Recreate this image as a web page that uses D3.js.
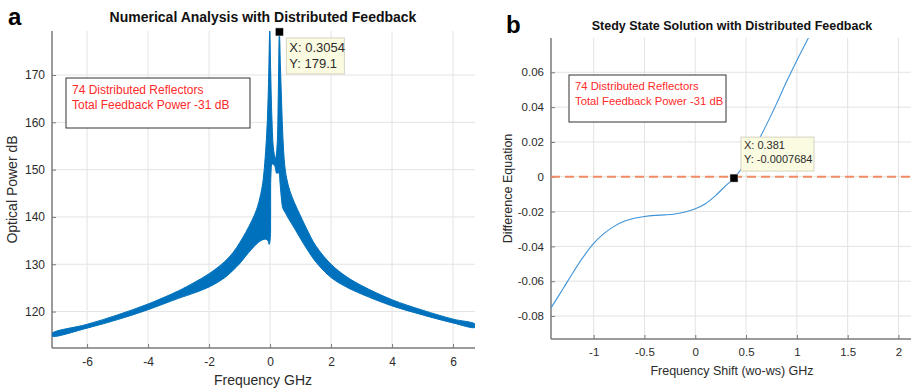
<!DOCTYPE html>
<html>
<head>
<meta charset="utf-8">
<script src="https://cdn.jsdelivr.net/npm/d3@7"></script>
<style>
  body { margin: 0; background: #fff; }
  svg { font-family: "Liberation Sans", Arial, Helvetica, sans-serif; }
</style>
</head>
<body>
<svg id="chart" width="911" height="388"></svg>
<script>
// panel a: optical power spectrum, drawn as the envelope of the dense oscillation
const upperA = [
  [-7.15, 115.4], [-6, 117.3], [-5, 119.3], [-4, 121.6], [-3, 124.4], [-2.5, 126.1], [-2, 128.0],
  [-1.5, 130.5], [-1.2, 132.6], [-1, 134.5], [-0.8, 136.7], [-0.6, 139.2], [-0.44, 141.6],
  [-0.3, 145.0], [-0.22, 148.2], [-0.11, 157.6], [-0.05, 168.2], [-0.01, 179.4], [0.02, 171],
  [0.06, 161], [0.12, 154], [0.18, 152.4], [0.23, 155], [0.27, 166], [0.3054, 179.1],
  [0.34, 172], [0.38, 164], [0.42, 157], [0.48, 151], [0.55, 148], [0.65, 145.5], [0.8, 143.0],
  [1.0, 140.2], [1.2, 137.5], [1.5, 133.9], [2, 130.0], [2.5, 127.4], [3, 125.5], [4, 122.5],
  [5, 120.3], [6, 118.4], [6.72, 117.35]
];
const lowerA = [
  [6.72, 116.65], [6, 117.6], [5, 119.3], [4, 121.2], [3, 123.7], [2.5, 125.2], [2, 127.2],
  [1.5, 130.5], [1.2, 133.3], [1.0, 135.4], [0.8, 137.6], [0.6, 139.7], [0.5, 140.9],
  [0.42, 141.8], [0.37, 144], [0.33, 147], [0.28, 149.4], [0.22, 149.2], [0.15, 150.8],
  [0.07, 151.2], [0.03, 149], [0.018, 140], [0.008, 135.6], [-0.03, 134.2], [-0.07, 135],
  [-0.15, 135.3], [-0.3, 135], [-0.44, 134.3], [-0.6, 133.2], [-0.8, 131.7], [-1, 130.1],
  [-1.2, 128.8], [-1.5, 127.1], [-2, 125.2], [-2.5, 123.9], [-3, 122.8], [-4, 120.4],
  [-5, 118.3], [-6, 116.5], [-7.15, 114.8]
];
const xTicksA = [-6, -4, -2, 0, 2, 4, 6];
const yTicksA = [120, 130, 140, 150, 160, 170];
const tipA = { x: 0.3054, y: 179.1 };

// panel b: steady state difference equation
const shiftB = [-1.42, -1.3, -1.2, -1.1, -1.0, -0.9, -0.8, -0.7, -0.6, -0.5, -0.4, -0.3, -0.2, -0.1,
  0, 0.1, 0.2, 0.3, 0.381, 0.5, 0.6, 0.7, 0.8, 0.9, 1.0, 1.12];
const diffB = [-0.0753, -0.0642, -0.0547, -0.0459, -0.0383, -0.0327, -0.0285, -0.0256, -0.0238,
  -0.0228, -0.0222, -0.0219, -0.0214, -0.0203, -0.0184, -0.0155, -0.0108, -0.0051, -0.0008,
  0.0085, 0.0185, 0.0298, 0.0420, 0.0548, 0.0668, 0.0805];
const xTicksB = [-1, -0.5, 0, 0.5, 1, 1.5, 2];
const yTicksB = [-0.08, -0.06, -0.04, -0.02, 0, 0.02, 0.04, 0.06];
const tipB = { x: 0.381, y: -0.0007684 };

const noteLines = ["74 Distributed Reflectors", "Total Feedback Power -31 dB"];

const svg = d3.select("#chart");
const blue = "#0072bd";

function drawAxes(g, x, y, xt, yt, top, bottom, left, right, fs) {
  // grid
  g.append("g").selectAll("line").data(xt).join("line")
    .attr("x1", d => x(d)).attr("x2", d => x(d)).attr("y1", top).attr("y2", bottom)
    .attr("stroke", "#e3e3e3");
  g.append("g").selectAll("line").data(yt).join("line")
    .attr("y1", d => y(d)).attr("y2", d => y(d)).attr("x1", left).attr("x2", right)
    .attr("stroke", "#e3e3e3");

  const xa = g.append("g").attr("transform", "translate(0," + bottom + ")")
    .call(d3.axisBottom(x).tickValues(xt).tickFormat(d => String(d)).tickSize(-4).tickPadding(9));
  const ya = g.append("g").attr("transform", "translate(" + left + ",0)")
    .call(d3.axisLeft(y).tickValues(yt).tickFormat(d => String(d)).tickSize(-4).tickPadding(7));
  for (let a of [xa, ya]) {
    a.select(".domain").attr("stroke", "#7a7a7a").attr("stroke-width", 1.5);
    a.selectAll(".tick line").attr("stroke", "#7a7a7a");
    a.selectAll("text").attr("fill", "#2b2b2b").style("fill", "#2b2b2b").style("font-size", fs + "px");
  }
  // keep axis lines only on the left and bottom
  xa.select(".domain").attr("d", "M" + left + ",0H" + right);
  ya.select(".domain").attr("d", "M0," + top + "V" + bottom);
}

function drawNote(g, x0, y0, w, h, fs) {
  g.append("rect").attr("x", x0).attr("y", y0).attr("width", w).attr("height", h)
    .attr("fill", "#fff").attr("stroke", "#333").attr("stroke-width", 1);
  g.selectAll("text.note").data(noteLines).join("text").attr("class", "note")
    .attr("x", x0 + 6).attr("y", (d, i) => y0 + 4 + fs + i * (fs + 3))
    .attr("fill", "#ff2a2a").style("font-size", fs + "px").text(d => d);
}

function drawTip(g, px, py, bx, by, bw, bh, lines, fs) {
  g.append("rect").attr("x", bx).attr("y", by).attr("width", bw).attr("height", bh)
    .attr("fill", "#fbfbe1").attr("stroke", "#d4d4c0");
  g.selectAll("text.tip").data(lines).join("text").attr("class", "tip")
    .attr("x", bx + 3).attr("y", (d, i) => by + fs + 1 + i * (fs + 3))
    .attr("fill", "#2b2b2b").style("font-size", fs + "px").text(d => d);
  g.append("rect").attr("x", px - 4).attr("y", py - 4).attr("width", 8).attr("height", 8)
    .attr("fill", "#000").attr("stroke", "#ddd").attr("stroke-width", 0.5);
}

// ---------- panel a ----------
{
  const left = 52, right = 475, top = 31, bottom = 348;
  const x = d3.scaleLinear().domain([-7.15, 6.72]).range([left, right]);
  const y = d3.scaleLinear().domain([112.3, 179.3]).range([bottom, top]);
  const g = svg.append("g");
  drawAxes(g, x, y, xTicksA, yTicksA, top, bottom, left, right, 12);

  svg.append("clipPath").attr("id", "clipA").append("rect")
    .attr("x", left).attr("y", top).attr("width", right - left).attr("height", bottom - top);

  const bandLine = d3.line().x(d => x(d[0])).y(d => y(d[1]))
    .curve(d3.curveCatmullRomClosed.alpha(0.5));
  g.append("path").datum(upperA.concat(lowerA))
    .attr("clip-path", "url(#clipA)")
    .attr("d", bandLine)
    .attr("fill", blue).attr("stroke", blue).attr("stroke-width", 1).attr("stroke-linejoin", "round");

  g.append("text").attr("x", 263).attr("y", 22).attr("text-anchor", "middle")
    .style("font-size", "14px").style("font-weight", "bold").attr("fill", "#111")
    .text("Numerical Analysis with Distributed Feedback");
  g.append("text").attr("x", 263).attr("y", 385).attr("text-anchor", "middle")
    .style("font-size", "14px").attr("fill", "#2b2b2b").text("Frequency GHz");
  g.append("text").attr("transform", "translate(17," + (top + bottom) / 2 + ") rotate(-90)")
    .attr("text-anchor", "middle").style("font-size", "14px").attr("fill", "#2b2b2b")
    .text("Optical Power dB");
  g.append("text").attr("x", 8).attr("y", 25).style("font-size", "24px")
    .style("font-weight", "bold").attr("fill", "#000").text("a");

  drawNote(g, 66, 78, 184, 50, 12);
  const px = x(tipA.x), py = y(tipA.y);
  drawTip(g, px, py, px + 7, py + 6, 58, 36, ["X: " + tipA.x, "Y: " + tipA.y], 13);
}

// ---------- panel b ----------
{
  const left = 551, right = 918.8, top = 38, bottom = 339;
  const x = d3.scaleLinear().domain([-1.42, 2.2]).range([left, right]);
  const y = d3.scaleLinear().domain([-0.0932, 0.0797]).range([bottom, top]);
  const g = svg.append("g");
  drawAxes(g, x, y, xTicksB, yTicksB, top, bottom, left, right, 11.5);

  svg.append("clipPath").attr("id", "clipB").append("rect")
    .attr("x", left).attr("y", top).attr("width", right - left).attr("height", bottom - top);

  g.append("line").attr("x1", left).attr("x2", right).attr("y1", y(0)).attr("y2", y(0))
    .attr("stroke", "#ef8c64").attr("stroke-width", 1.8).attr("stroke-dasharray", "9,5");

  g.append("path").datum(shiftB.map((d, i) => [d, diffB[i]]))
    .attr("clip-path", "url(#clipB)")
    .attr("d", d3.line().x(d => x(d[0])).y(d => y(d[1])).curve(d3.curveCatmullRom))
    .attr("fill", "none").attr("stroke", "#3d93d8").attr("stroke-width", 1.1);

  g.append("text").attr("x", 732).attr("y", 30).attr("text-anchor", "middle")
    .style("font-size", "12.5px").style("font-weight", "bold").attr("fill", "#111")
    .text("Stedy State Solution with Distributed Feedback");
  g.append("text").attr("x", 732).attr("y", 375).attr("text-anchor", "middle")
    .style("font-size", "12.5px").attr("fill", "#2b2b2b").text("Frequency Shift (wo-ws) GHz");
  g.append("text").attr("transform", "translate(512," + (top + bottom) / 2 + ") rotate(-90)")
    .attr("text-anchor", "middle").style("font-size", "12.5px").attr("fill", "#2b2b2b")
    .text("Difference Equation");
  g.append("text").attr("x", 506).attr("y", 33).style("font-size", "24px")
    .style("font-weight", "bold").attr("fill", "#000").text("b");

  drawNote(g, 569, 75, 157, 47, 11.3);
  const px = x(tipB.x), py = y(tipB.y);
  drawTip(g, px, py, px + 7, py - 41, 73, 34, ["X: " + tipB.x, "Y: " + tipB.y], 11);
}
</script>
</body>
</html>
